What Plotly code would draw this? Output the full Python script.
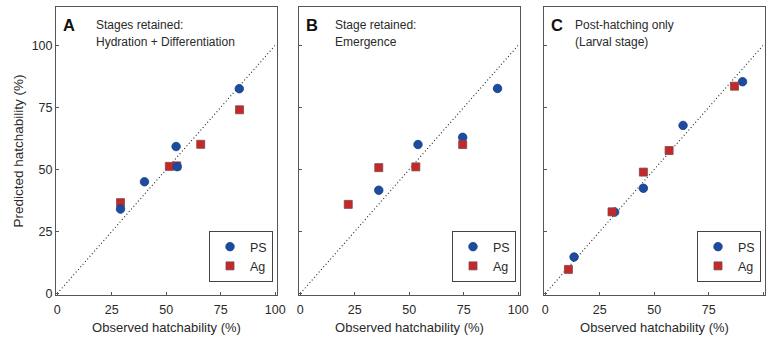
import plotly.graph_objects as go

# ---- data ----
panels = ["A", "B", "C"]
panel_titles = [
    ["Stages retained:", "Hydration + Differentiation"],
    ["Stage retained:", "Emergence"],
    ["Post-hatching only", "(Larval stage)"],
]
ps_obs = [
    [29, 40, 54.5, 55, 83.5],
    [36, 54, 74.5, 90.5],
    [13.2, 31.8, 45, 63.2, 90.5],
]
ps_pred = [
    [34, 45, 59.2, 51.1, 82.5],
    [41.6, 60, 62.9, 82.6],
    [14.7, 32.8, 42.4, 67.7, 85.3],
]
ag_obs = [
    [29, 51.4, 54.8, 65.8, 83.6],
    [22, 36, 53, 74.5],
    [10.6, 30.6, 45, 56.8, 86.8],
]
ag_pred = [
    [36.6, 51.2, 51.4, 60.1, 74.0],
    [35.9, 50.7, 51.0, 60.0],
    [9.7, 32.9, 48.9, 57.6, 83.5],
]
ticks = [0, 25, 50, 75, 100]
tick_labels = ["0", "25", "50", "75", "100"]
identity = [0, 100]

FONT = "Liberation Sans, Arial, sans-serif"
TXT = "#2a2a2a"
FRAME = "#555555"
PS_FILL, PS_LINE = "#1c4ba0", "#173c85"
AG_FILL, AG_LINE = "#c6282a", "#7a4a4a"

W, H = 772, 341
ML, MR, MT, MB = 56, 7, 7, 46
PW = W - ML - MR
PH = H - MT - MB

# panel pixel extents (left, right)
px_edges = [(56, 277), (299, 520), (544, 765)]


def fx(px):
    return (px - ML) / PW


def fy(py):
    return (H - MB - py) / PH


fig = go.Figure()
layout = dict(
    width=W, height=H,
    margin=dict(l=ML, r=MR, t=MT, b=MB, autoexpand=False),
    paper_bgcolor="white", plot_bgcolor="white",
    font=dict(family=FONT, size=12, color=TXT),
    annotations=[], shapes=[],
)

for i in range(3):
    sfx = "" if i == 0 else str(i + 1)
    xa, ya = "x" + sfx, "y" + sfx
    lg = "legend" + sfx

    # identity line
    fig.add_trace(go.Scatter(
        x=identity, y=identity, mode="lines", xaxis=xa, yaxis=ya,
        line=dict(color="#222222", width=1.1, dash="1px,2.5px"),
        showlegend=False, hoverinfo="skip"))

    ps = go.Scatter(
        x=ps_obs[i], y=ps_pred[i], mode="markers", name="PS",
        xaxis=xa, yaxis=ya, legend=lg, legendrank=1,
        marker=dict(symbol="circle", size=8.5, color=PS_FILL,
                    line=dict(color=PS_LINE, width=0.8)))
    ag = go.Scatter(
        x=ag_obs[i], y=ag_pred[i], mode="markers", name="Ag",
        xaxis=xa, yaxis=ya, legend=lg, legendrank=2,
        marker=dict(symbol="square", size=8, color=AG_FILL,
                    line=dict(color=AG_LINE, width=0.8)))
    if i == 0:
        fig.add_trace(ag)
        fig.add_trace(ps)
    else:
        fig.add_trace(ps)
        fig.add_trace(ag)

    l, r = px_edges[i]
    dom = [fx(l), fx(r)]
    layout["xaxis" + sfx] = dict(
        domain=dom, range=[-0.6, 100.8], anchor=ya, automargin=False,
        tickvals=ticks, ticktext=tick_labels, ticks="inside", ticklen=3,
        tickcolor=FRAME, showgrid=False, zeroline=False,
        showline=True, linecolor=FRAME, linewidth=1, mirror=True,
        ticklabelstandoff=3,
        tickfont=dict(size=12.5, color=TXT),
        title=dict(text="Observed hatchability (%)", font=dict(size=13, color=TXT),
                   standoff=6),
    )
    layout["yaxis" + sfx] = dict(
        domain=[0, 1], range=[-0.6, 115.4], anchor=xa, automargin=False,
        tickvals=ticks, ticktext=tick_labels, ticks="inside", ticklen=3,
        tickcolor=FRAME, showgrid=False, zeroline=False,
        showline=True, linecolor=FRAME, linewidth=1, mirror=True,
        showticklabels=(i == 0),
        tickfont=dict(size=12.5, color=TXT),
        title=dict(text="Predicted hatchability (%)" if i == 0 else "",
                   font=dict(size=13.5, color=TXT), standoff=4),
    )

    layout[lg] = dict(
        x=fx(r - 4), y=fy(282), xanchor="right", yanchor="bottom",
        bgcolor="white", bordercolor="#444444", borderwidth=1,
        font=dict(size=12.5, color=TXT), itemwidth=30,
        tracegroupgap=0, traceorder="normal",
    )

    # panel letter
    layout["annotations"].append(dict(
        x=fx(l + 5), y=fy(25), xref="paper", yref="paper",
        xanchor="left", yanchor="middle", showarrow=False,
        text="<b>%s</b>" % panels[i], font=dict(size=16.5, color="#111111")))
    # description lines
    tx = l + (38 if i == 0 else (34 if i == 1 else 29))
    for j, line in enumerate(panel_titles[i]):
        layout["annotations"].append(dict(
            x=fx(tx), y=fy(25 + 17 * j), xref="paper", yref="paper",
            xanchor="left", yanchor="middle", showarrow=False,
            text=line, font=dict(size=12, color=TXT)))

fig.update_layout(**layout)
fig.write_html(
    "out.html",
    config={"displayModeBar": False},
    post_script="document.body.style.margin='0';document.body.style.padding='0';",
)
